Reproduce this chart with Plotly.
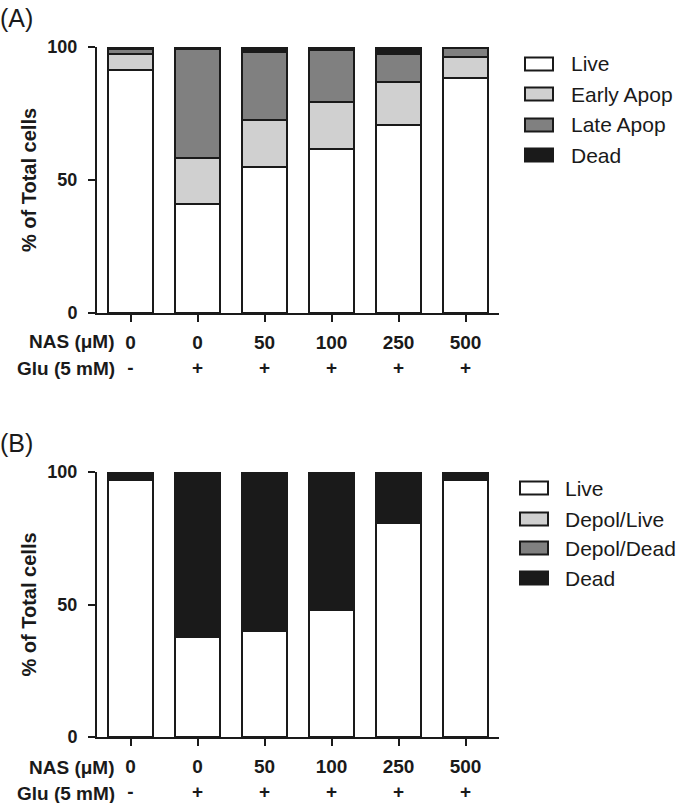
import plotly.graph_objects as go

# ---- data ----
nas_labels = ["0", "0", "50", "100", "250", "500"]
glu_labels = ["-", "+", "+", "+", "+", "+"]

# Panel A (Annexin V / PI)
a_live = [91.4, 41.0, 55.0, 61.5, 70.7, 88.2]
a_early = [6.0, 17.2, 17.6, 17.9, 16.0, 7.9]
a_late = [1.8, 41.0, 25.7, 19.5, 10.7, 3.4]
a_dead = [0.8, 0.8, 1.7, 1.1, 2.6, 0.5]

# Panel B (mitochondrial depolarisation)
b_live = [97.0, 37.7, 40.0, 47.9, 80.8, 97.0]
b_depol_live = [0, 0, 0, 0, 0, 0]
b_depol_dead = [0, 0, 0, 0, 0, 0]
b_dead = [3.0, 62.3, 60.0, 52.1, 19.2, 3.0]

names_a = ["Live", "Early Apop", "Late Apop", "Dead"]
names_b = ["Live", "Depol/Live", "Depol/Dead", "Dead"]
colors = ["#ffffff", "#d0d0d0", "#808080", "#1a1a1a"]

FONT = "Liberation Sans, Arial, sans-serif"
LINE = "#1a1a1a"
W, H = 680, 803

xpos = list(range(len(nas_labels)))
ticktext = [f"{n}<br>{g}" for n, g in zip(nas_labels, glu_labels)]

fig = go.Figure()
for name, vals, col in zip(names_a, [a_live, a_early, a_late, a_dead], colors):
    fig.add_trace(go.Bar(x=xpos, y=vals, name=name, width=0.67, showlegend=False,
                         marker=dict(color=col, line=dict(color=LINE, width=2)),
                         xaxis="x", yaxis="y"))
for name, vals, col in zip(names_b, [b_live, b_depol_live, b_depol_dead, b_dead], colors):
    fig.add_trace(go.Bar(x=xpos, y=vals, name=name, width=0.67, showlegend=False,
                         marker=dict(color=col, line=dict(color=LINE, width=2)),
                         xaxis="x2", yaxis="y2"))

xdom = [97 / W, 499 / W]
ydomA = [1 - 313 / H, 1 - 47 / H]
ydomB = [1 - 737 / H, 1 - 472 / H]

xcommon = dict(range=[-0.5, 5.5], tickmode="array", tickvals=xpos, ticktext=ticktext,
               ticks="outside", ticklen=7, tickwidth=2, tickcolor=LINE,
               showline=True, linecolor=LINE, linewidth=2, showgrid=False, zeroline=False,
               tickfont=dict(family=FONT, size=19, color=LINE, weight="bold"),
               ticklabelstandoff=4, domain=xdom, fixedrange=True, automargin=False)
ycommon = dict(range=[0, 100], tickvals=[0, 50, 100], ticks="outside", ticklen=7, tickwidth=2,
               tickcolor=LINE, showline=True, linecolor=LINE, linewidth=2, showgrid=False,
               zeroline=False, tickfont=dict(family=FONT, size=18, color=LINE, weight="bold"),
               ticklabelstandoff=7,
               title=dict(text="% of Total cells", font=dict(family=FONT, size=20, color=LINE, weight="bold"),
                          standoff=5),
               fixedrange=True, automargin=False)

fig.update_layout(
    width=W, height=H, barmode="stack", bargap=0,
    margin=dict(l=0, r=0, t=0, b=0),
    plot_bgcolor="white", paper_bgcolor="white",
    font=dict(family=FONT, color=LINE),
    xaxis=dict(**xcommon, anchor="y"),
    yaxis=dict(**ycommon, domain=ydomA, anchor="x"),
    xaxis2=dict(**xcommon, anchor="y2"),
    yaxis2=dict(**ycommon, domain=ydomB, anchor="x2"),
    showlegend=False,
)

annots = [
    dict(text="(A)", x=-2 / W, y=1 - 2 / H, xanchor="left", yanchor="top", font=dict(size=25)),
    dict(text="(B)", x=-2 / W, y=1 - 427 / H, xanchor="left", yanchor="top", font=dict(size=25)),
    dict(text="NAS (\u03bcM)", x=117 / W, y=1 - 342 / H, xanchor="right", yanchor="middle",
         font=dict(size=19, weight="bold")),
    dict(text="Glu (5 mM)", x=117 / W, y=1 - 368 / H, xanchor="right", yanchor="middle",
         font=dict(size=19, weight="bold")),
    dict(text="NAS (\u03bcM)", x=117 / W, y=1 - 767 / H, xanchor="right", yanchor="middle",
         font=dict(size=19, weight="bold")),
    dict(text="Glu (5 mM)", x=117 / W, y=1 - 793 / H, xanchor="right", yanchor="middle",
         font=dict(size=19, weight="bold")),
]

# ---- hand-drawn legends (boxes + labels) ----
shapes = []
legend_specs = [
    (names_a, 525, 572, [64, 94, 125, 155]),
    (names_b, 520, 566, [488, 519, 548, 578]),
]
for names, bx, tx, rows in legend_specs:
    for name, col, cy in zip(names, colors, rows):
        shapes.append(dict(type="rect", xref="paper", yref="paper",
                           x0=bx / W, x1=(bx + 28) / W,
                           y0=1 - (cy + 6.5) / H, y1=1 - (cy - 6.5) / H,
                           fillcolor=col, line=dict(color=LINE, width=2)))
        annots.append(dict(text=name, x=(tx - 3) / W, y=1 - cy / H, xanchor="left",
                           yanchor="middle", font=dict(size=21)))

for a in annots:
    a.update(xref="paper", yref="paper", showarrow=False)
    a["font"] = dict(family=FONT, color=LINE, **a["font"])
fig.update_layout(annotations=annots, shapes=shapes)

fig.write_html("out.html", config={"displayModeBar": False, "staticPlot": True},
               post_script="document.body.style.margin='0';document.body.style.overflow='hidden';")
